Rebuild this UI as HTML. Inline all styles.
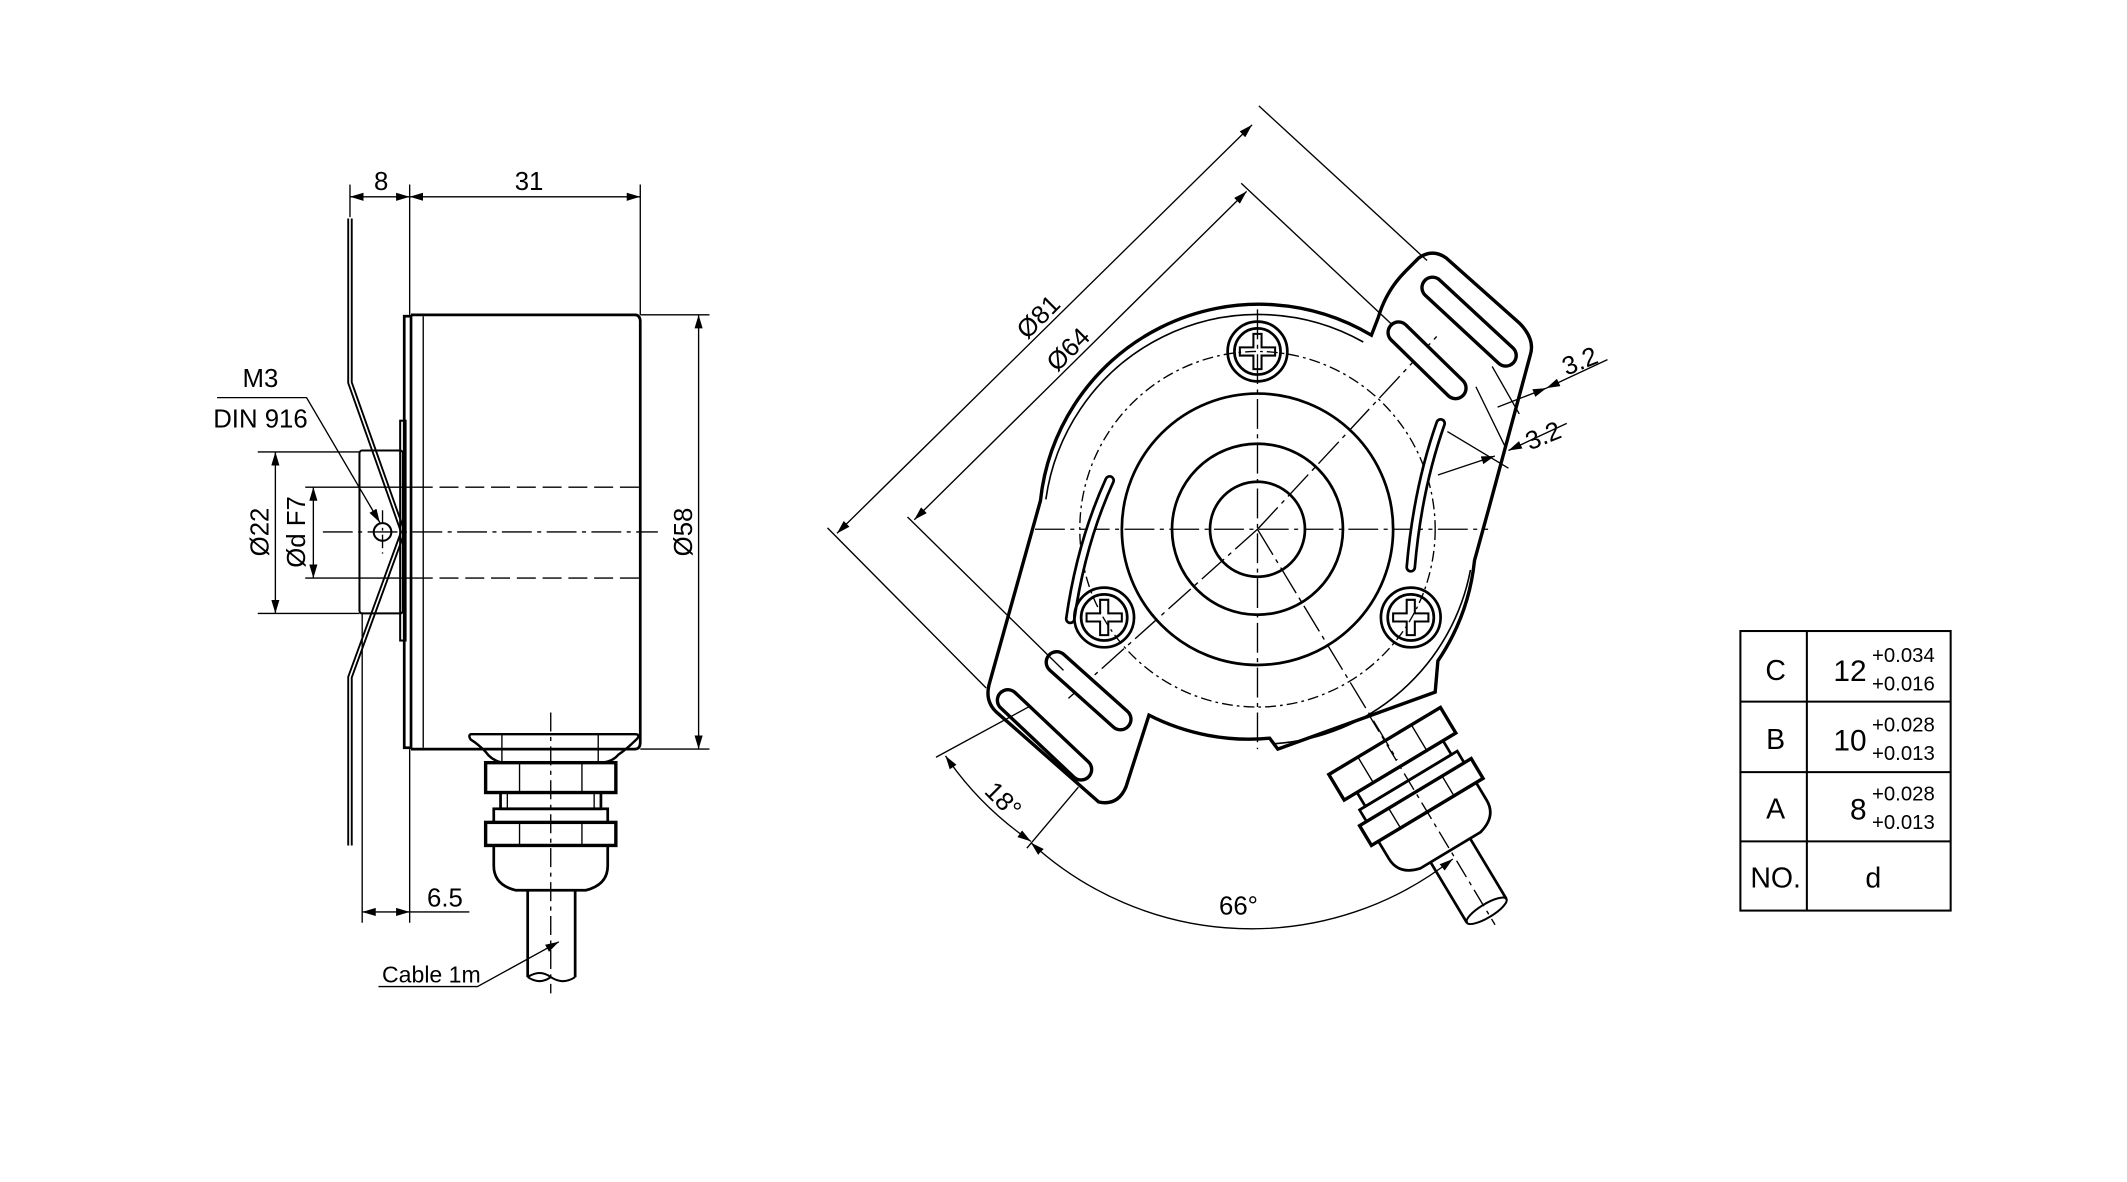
<!DOCTYPE html>
<html><head><meta charset="utf-8"><style>
html,body{margin:0;padding:0;background:#fff;}
svg{display:block;}
text{font-family:"Liberation Sans Narrow","Liberation Sans",sans-serif;fill:#000;}
</style></head><body>
<svg width="2127" height="1182" viewBox="0 0 1568 871" preserveAspectRatio="none" xmlns="http://www.w3.org/2000/svg">
<defs>
<marker id="a" viewBox="0 0 10 6" refX="10" refY="3" markerWidth="10" markerHeight="6" orient="auto-start-reverse" markerUnits="userSpaceOnUse"><path d="M0,0 L10,3 L0,6 z" fill="#000"/></marker>
</defs>
<rect width="1568" height="871" fill="#fff"/>
<g fill="none" stroke="#000" stroke-width="1">
<!-- LEFT VIEW -->
<!-- dims top -->
<line x1="258" y1="136" x2="258" y2="160"/>
<line x1="302" y1="136" x2="302" y2="232"/>
<line x1="472" y1="136" x2="472" y2="232"/>
<line x1="258" y1="145" x2="302" y2="145" marker-start="url(#a)" marker-end="url(#a)"/>
<line x1="302" y1="145" x2="472" y2="145" marker-start="url(#a)" marker-end="url(#a)"/>
<!-- flange plate -->
<path d="M258,161 L258,282 L297,392 L258,499 L258,623" stroke-width="4"/>
<path d="M258,161 L258,282 L297,392 L258,499 L258,623" stroke="#fff" stroke-width="1.2"/>
<!-- hub -->
<rect x="265" y="332" width="32" height="120" rx="2" stroke-width="1.5"/>
<rect x="295" y="310" width="4" height="162" stroke-width="1.5"/>
<rect x="298" y="233" width="5" height="318" stroke-width="2"/>
<!-- body -->
<path d="M303,232 L468,232 Q472,232 472,237 L472,547 Q472,552 468,552 L303,552" stroke-width="2"/>
<line x1="312" y1="233" x2="312" y2="551"/>
<line x1="305" y1="359" x2="472" y2="359" stroke-dasharray="14,5"/>
<line x1="305" y1="426" x2="472" y2="426" stroke-dasharray="14,5"/>
<line x1="238" y1="392" x2="485" y2="392" stroke-dasharray="22,4,3,4"/>
<circle cx="282" cy="392" r="6.5" stroke-width="1.5"/>
<line x1="282" y1="376" x2="282" y2="408" stroke-dasharray="10,3,2,3"/>
<!-- Ø58 -->
<line x1="472" y1="232" x2="523" y2="232"/>
<line x1="472" y1="552" x2="523" y2="552"/>
<line x1="515" y1="232" x2="515" y2="552" marker-start="url(#a)" marker-end="url(#a)"/>
<!-- Ø22 / Ød F7 -->
<line x1="190" y1="333" x2="265" y2="333"/>
<line x1="190" y1="452" x2="265" y2="452"/>
<line x1="203" y1="333" x2="203" y2="452" marker-start="url(#a)" marker-end="url(#a)"/>
<line x1="225" y1="359" x2="305" y2="359"/>
<line x1="225" y1="426" x2="305" y2="426"/>
<line x1="231" y1="359" x2="231" y2="426" marker-start="url(#a)" marker-end="url(#a)"/>
<!-- M3 leader -->
<path d="M160,293 L226,293 L280,385" marker-end="url(#a)"/>
<!-- connector -->
<path d="M347,541 L468,541 Q472,541 470,544 Q462,552 456,556 Q452,561 444,562 L370,562 Q362,560 358,554 Q352,548 347,545 Q345,542 347,541z" stroke-width="1.8"/>
<line x1="370" y1="541" x2="370" y2="562"/><line x1="441" y1="541" x2="441" y2="562"/>
<rect x="358" y="562" width="96" height="22" stroke-width="2.5"/>
<line x1="383" y1="562" x2="383" y2="584"/><line x1="429" y1="562" x2="429" y2="584"/>
<rect x="369" y="584" width="74" height="12" stroke-width="2"/>
<line x1="374" y1="584" x2="374" y2="596"/><line x1="438" y1="584" x2="438" y2="596"/>
<rect x="364" y="596" width="84" height="10" stroke-width="2"/>
<rect x="358" y="606" width="96" height="17" stroke-width="2.5"/>
<line x1="383" y1="606" x2="383" y2="623"/><line x1="429" y1="606" x2="429" y2="623"/>
<path d="M364,623 L364,638 Q364,652 380,656 L432,656 Q448,652 448,638 L448,623" stroke-width="2"/>
<path d="M389,656 L389,720 M424,656 L424,720" stroke-width="2"/>
<path d="M389,720 Q398,714 406,720 Q415,726 424,720 M389,720 Q398,726 406,720" stroke-width="1.5"/>
<line x1="406" y1="525" x2="406" y2="732" stroke-dasharray="14,4,3,4"/>
<!-- 6.5 -->
<line x1="267" y1="452" x2="267" y2="680"/>
<line x1="302" y1="552" x2="302" y2="680"/>
<line x1="267" y1="672" x2="302" y2="672" marker-start="url(#a)" marker-end="url(#a)"/>
<line x1="302" y1="672" x2="346" y2="672"/>
<!-- cable -->
<path d="M279,727 L352,727 L412,694" marker-end="url(#a)"/>

<!-- RIGHT VIEW -->
<!-- centerlines -->
<g stroke-dasharray="22,4,3,4">
<line x1="763" y1="390" x2="1097" y2="390"/>
<line x1="927" y1="228" x2="927" y2="552"/>
<line x1="927" y1="390" x2="785" y2="517"/>
<line x1="927" y1="390" x2="1060" y2="247"/>
<line x1="927" y1="390" x2="1030" y2="560"/>
</g>
<circle cx="927" cy="390" r="131" stroke-dasharray="8,3,2,3"/>
<circle cx="927" cy="390" r="100" stroke-width="2"/>
<circle cx="927" cy="390" r="63" stroke-width="2"/>
<circle cx="927" cy="390" r="35" stroke-width="2"/>
<!-- housing + flange -->
<path d="M767,369 A162,162 0 0 1 1011,247 L1016,234 Q1022,214 1036,200 L1046,190 Q1056,183 1066,190 L1120,238 Q1132,250 1128,262 L1098,373 L1087,413 A162,162 0 0 1 1060,487 L1058,510 L942,552 L936,544 A162,162 0 0 1 847,527 L830,580 Q824,594 810,591 L736,526 Q726,518 729,505 z" stroke-width="2.5"/>
<path d="M771,368 A158,158 0 0 1 1005,252" stroke-width="1.2"/>
<path d="M1084,420 A158,158 0 0 1 940,548" stroke-width="1.2"/>
<!-- slots -->
<g stroke-width="2.2" stroke-linecap="round">
<line x1="1056" y1="212" x2="1110" y2="262" stroke-width="18"/>
<line x1="1056" y1="212" x2="1110" y2="262" stroke="#fff" stroke-width="13"/>
<line x1="1031" y1="245" x2="1073" y2="286" stroke-width="18"/>
<line x1="1031" y1="245" x2="1073" y2="286" stroke="#fff" stroke-width="13"/>
<line x1="779" y1="488" x2="826" y2="530" stroke-width="18"/>
<line x1="779" y1="488" x2="826" y2="530" stroke="#fff" stroke-width="13"/>
<line x1="743" y1="516" x2="797" y2="567" stroke-width="18"/>
<line x1="743" y1="516" x2="797" y2="567" stroke="#fff" stroke-width="13"/>
<path d="M818,354 Q797,400 789,456" stroke-width="8"/>
<path d="M818,354 Q797,400 789,456" stroke="#fff" stroke-width="4"/>
<path d="M1062,312 Q1045,360 1040,418" stroke-width="8"/>
<path d="M1062,312 Q1045,360 1040,418" stroke="#fff" stroke-width="4"/>
</g>
<!-- screws -->
<g stroke-width="2">
<circle cx="927" cy="259" r="22"/><circle cx="927" cy="259" r="17"/>
<circle cx="814" cy="455" r="22"/><circle cx="814" cy="455" r="17"/>
<circle cx="1040" cy="455" r="22"/><circle cx="1040" cy="455" r="17"/>
<path d="M914,256 h10 v-10 h6 v10 h10 v6 h-10 v10 h-6 v-10 h-10z" stroke-width="1.5"/>
<path d="M801,452 h10 v-10 h6 v10 h10 v6 h-10 v10 h-6 v-10 h-10z" stroke-width="1.5"/>
<path d="M1027,452 h10 v-10 h6 v10 h10 v6 h-10 v10 h-6 v-10 h-10z" stroke-width="1.5"/>
</g>
<!-- connector rotated -->
<g transform="translate(927,390) rotate(-31)">
<rect x="-48" y="182" width="96" height="22" stroke-width="2.5"/>
<line x1="-23" y1="182" x2="-23" y2="204"/><line x1="23" y1="182" x2="23" y2="204"/>
<rect x="-37" y="204" width="74" height="12" stroke-width="2"/>
<rect x="-42" y="216" width="84" height="10" stroke-width="2"/>
<rect x="-48" y="226" width="96" height="17" stroke-width="2.5"/>
<line x1="-23" y1="226" x2="-23" y2="243"/><line x1="23" y1="226" x2="23" y2="243"/>
<path d="M-42,243 L-42,258 Q-42,272 -26,276 L26,276 Q42,272 42,258 L42,243" stroke-width="2"/>
<path d="M-17,276 L-17,328 M17,276 L17,328" stroke-width="2"/>
<ellipse cx="0" cy="328" rx="17" ry="5" stroke-width="1.5"/>
<line x1="0" y1="160" x2="0" y2="340" stroke-dasharray="14,4,3,4"/>
</g>
<!-- Ø81 / Ø64 -->
<line x1="610" y1="389" x2="727" y2="507"/>
<line x1="928" y1="78" x2="1052" y2="192"/>
<line x1="617" y1="393" x2="923" y2="92" marker-start="url(#a)" marker-end="url(#a)"/>
<line x1="669" y1="381" x2="784" y2="494"/>
<line x1="915" y1="135" x2="1026" y2="239"/>
<line x1="674" y1="383" x2="919" y2="141" marker-start="url(#a)" marker-end="url(#a)"/>
<!-- 3.2 dims -->
<line x1="1100" y1="270" x2="1120" y2="305"/>
<line x1="1088" y1="285" x2="1110" y2="330"/>
<line x1="1067" y1="318" x2="1112" y2="345"/>
<line x1="1104" y1="300" x2="1140" y2="286" marker-end="url(#a)"/>
<line x1="1185" y1="265" x2="1140" y2="286" marker-end="url(#a)"/>
<line x1="1060" y1="350" x2="1102" y2="336" marker-end="url(#a)"/>
<line x1="1155" y1="312" x2="1112" y2="332" marker-end="url(#a)"/>
<!-- 18° and 66° -->
<line x1="690" y1="558" x2="760" y2="520"/>
<line x1="757" y1="625" x2="795" y2="580"/>
<path d="M697,557 A240,240 0 0 0 760,620" marker-start="url(#a)" marker-end="url(#a)"/>
<path d="M760,621 A240,240 0 0 0 1071,633" marker-start="url(#a)" marker-end="url(#a)"/>

<!-- TABLE -->
<rect x="1283" y="465" width="155" height="206" stroke-width="1.5"/>
<line x1="1332" y1="465" x2="1332" y2="671" stroke-width="1.5"/>
<line x1="1283" y1="517" x2="1438" y2="517" stroke-width="1.5"/>
<line x1="1283" y1="569" x2="1438" y2="569" stroke-width="1.5"/>
<line x1="1283" y1="620" x2="1438" y2="620" stroke-width="1.5"/>
</g>

<!-- TEXT -->
<g font-size="19">
<text x="281" y="140" text-anchor="middle">8</text>
<text x="390" y="140" text-anchor="middle">31</text>
<text x="192" y="285" text-anchor="middle">M3</text>
<text x="192" y="315" text-anchor="middle">DIN 916</text>
<text transform="translate(198,392) rotate(-90)" text-anchor="middle">Ø22</text>
<text transform="translate(225,392) rotate(-90)" text-anchor="middle">Ød F7</text>
<text transform="translate(510,392) rotate(-90)" text-anchor="middle">Ø58</text>
<text x="328" y="668" text-anchor="middle">6.5</text>
<text x="318" y="724" text-anchor="middle" font-size="17">Cable 1m</text>
<text transform="translate(770,238) rotate(-45)" text-anchor="middle">Ø81</text>
<text transform="translate(792,262) rotate(-45)" text-anchor="middle">Ø64</text>
<text transform="translate(1167,272) rotate(-22)" text-anchor="middle">3.2</text>
<text transform="translate(1140,327) rotate(-22)" text-anchor="middle">3.2</text>
<text transform="translate(735,594) rotate(45)" text-anchor="middle">18°</text>
<text x="913" y="674" text-anchor="middle">66°</text>
<text x="1309" y="501" text-anchor="middle" font-size="21">C</text>
<text x="1309" y="552" text-anchor="middle" font-size="21">B</text>
<text x="1309" y="603" text-anchor="middle" font-size="21">A</text>
<text x="1309" y="654" text-anchor="middle" font-size="21">NO.</text>
<text x="1376" y="502" text-anchor="end" font-size="22">12</text>
<text x="1376" y="553" text-anchor="end" font-size="22">10</text>
<text x="1376" y="604" text-anchor="end" font-size="22">8</text>
<text x="1381" y="654" text-anchor="middle" font-size="21">d</text>
<g font-size="15">
<text x="1380" y="488">+0.034</text><text x="1380" y="509">+0.016</text>
<text x="1380" y="539">+0.028</text><text x="1380" y="560">+0.013</text>
<text x="1380" y="590">+0.028</text><text x="1380" y="611">+0.013</text>
</g>
</g>
</svg>
</body></html>
